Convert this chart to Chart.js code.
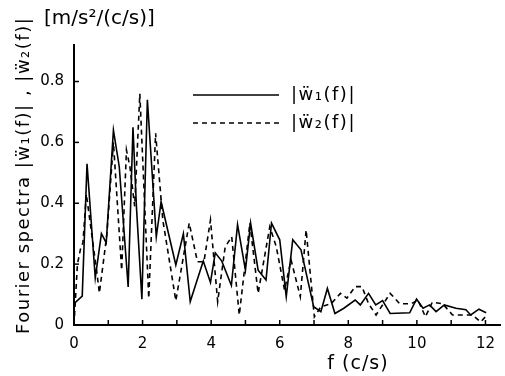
<!DOCTYPE html>
<html>
<head>
<meta charset="utf-8">
<script src="https://cdn.jsdelivr.net/npm/chart.js@4"></script>
<style>
  html, body { margin: 0; padding: 0; background: #fff; }
  #wrap { width: 505px; height: 376px; position: relative; }
</style>
</head>
<body>
<div id="wrap"><canvas id="spectraChart" width="505" height="376"></canvas></div>
<script>
// |W1(f)| solid curve
const freq1 = [0, 0.24, 0.38, 0.62, 0.8, 0.94, 1.15, 1.32, 1.58, 1.72, 1.82, 1.98, 2.14, 2.4, 2.54, 2.97, 3.19, 3.39, 3.77, 3.98, 4.12, 4.31, 4.59, 4.77, 5.0, 5.15, 5.37, 5.6, 5.76, 6.0, 6.19, 6.38, 6.62, 6.99, 7.2, 7.39, 7.61, 7.87, 8.2, 8.35, 8.59, 8.8, 9.0, 9.22, 9.79, 9.99, 10.18, 10.37, 10.56, 10.8, 11.14, 11.43, 11.57, 11.81, 12.02];
const amp1 = [0.07, 0.095, 0.53, 0.155, 0.30, 0.27, 0.64, 0.52, 0.125, 0.65, 0.39, 0.085, 0.74, 0.29, 0.405, 0.197, 0.30, 0.077, 0.21, 0.14, 0.237, 0.21, 0.13, 0.33, 0.18, 0.335, 0.18, 0.148, 0.335, 0.28, 0.093, 0.28, 0.247, 0.06, 0.044, 0.12, 0.038, 0.055, 0.082, 0.066, 0.104, 0.066, 0.08, 0.038, 0.04, 0.085, 0.055, 0.066, 0.044, 0.066, 0.055, 0.05, 0.033, 0.052, 0.04];

// |W2(f)| dashed curve
const freq2 = [0, 0.1, 0.19, 0.26, 0.36, 0.67, 0.74, 0.86, 0.96, 1.15, 1.39, 1.53, 1.63, 1.77, 1.92, 2.18, 2.38, 2.59, 2.97, 3.36, 3.6, 3.79, 3.98, 4.19, 4.41, 4.6, 4.82, 5.13, 5.37, 5.71, 5.9, 6.14, 6.33, 6.6, 6.77, 7.01, 7.2, 7.5, 7.77, 7.96, 8.2, 8.4, 8.59, 8.81, 9.22, 9.5, 9.84, 10.03, 10.25, 10.45, 10.75, 11.04, 11.33, 11.62, 11.86, 12.0];
const amp2 = [0.0, 0.2, 0.25, 0.27, 0.43, 0.17, 0.105, 0.21, 0.30, 0.60, 0.18, 0.575, 0.52, 0.39, 0.76, 0.088, 0.63, 0.345, 0.08, 0.335, 0.208, 0.208, 0.345, 0.077, 0.257, 0.29, 0.033, 0.335, 0.104, 0.323, 0.257, 0.115, 0.214, 0.093, 0.312, 0.027, 0.06, 0.07, 0.104, 0.088, 0.126, 0.126, 0.07, 0.033, 0.104, 0.07, 0.07, 0.082, 0.027, 0.075, 0.07, 0.033, 0.033, 0.033, 0.01, 0.027];

const xTicks = [0, 1, 2, 3, 4, 5, 6, 7, 8, 9, 10, 11, 12];
const xLabels = ["0", "", "2", "", "4", "", "6", "", "8", "", "10", "", "12"];
const yTicks = [0, 0.2, 0.4, 0.6, 0.8];
const yLabels = ["0", "0.2", "0.4", "0.6", "0.8"];

const seriesNames = ["|ẅ\u2081(f)|", "|ẅ\u2082(f)|"];
const FONT = "DejaVu Sans";

const toPoints = (xs, ys) => xs.map((x, i) => ({ x, y: ys[i] }));

// extra drawing: inner tick marks, titles, legend
const decorations = {
    id: "decorations",
    afterDraw(chart) {
        const { ctx, scales: { x, y } } = chart;
        ctx.save();
        ctx.strokeStyle = "#000";
        ctx.lineWidth = 1.5;

        // inner ticks
        xTicks.forEach(v => {
            const px = x.getPixelForValue(v);
            ctx.beginPath();
            ctx.moveTo(px, y.bottom);
            ctx.lineTo(px, y.bottom - 5);
            ctx.stroke();
        });
        yTicks.forEach(v => {
            const py = y.getPixelForValue(v);
            ctx.beginPath();
            ctx.moveTo(x.left, py);
            ctx.lineTo(x.left + 5, py);
            ctx.stroke();
        });

        ctx.fillStyle = "#000";
        ctx.textBaseline = "middle";

        // unit label
        ctx.font = `20px ${FONT}`;
        ctx.textAlign = "left";
        ctx.fillText("[m/s²/(c/s)]", 44, 19);

        // x title
        ctx.font = `19px ${FONT}`;
        ctx.textAlign = "center";
        ctx.letterSpacing = "1px";
        ctx.fillText("f (c/s)", 358, 364);

        // y title
        ctx.save();
        ctx.translate(24, 334);
        ctx.rotate(-Math.PI / 2);
        ctx.textAlign = "left";
        ctx.font = `18px ${FONT}`;
        ctx.letterSpacing = "1.5px";
        ctx.fillText("Fourier spectra " + seriesNames[0] + " , " + seriesNames[1], 0, 0);
        ctx.restore();

        // legend
        const ds = chart.data.datasets;
        [95, 123].forEach((ly, i) => {
            ctx.save();
            ctx.lineWidth = ds[i].borderWidth;
            ctx.setLineDash(ds[i].borderDash || []);
            ctx.beginPath();
            ctx.moveTo(193, ly);
            ctx.lineTo(279, ly);
            ctx.stroke();
            ctx.restore();
            ctx.font = `18px ${FONT}`;
            ctx.letterSpacing = "1.5px";
            ctx.textAlign = "left";
            ctx.fillText(seriesNames[i], 291, ly);
        });
        ctx.restore();
    }
};

new Chart(document.getElementById("spectraChart"), {
    type: "line",
    data: {
        datasets: [
            {
                label: seriesNames[0],
                data: toPoints(freq1, amp1),
                borderColor: "#000",
                borderWidth: 1.6,
                pointRadius: 0,
                tension: 0,
                fill: false
            },
            {
                label: seriesNames[1],
                data: toPoints(freq2, amp2),
                borderColor: "#000",
                borderWidth: 1.6,
                borderDash: [5, 4],
                pointRadius: 0,
                tension: 0,
                fill: false
            }
        ]
    },
    options: {
        responsive: false,
        animation: false,
        layout: { padding: { top: 45, right: 0, left: 0, bottom: 0 } },
        plugins: {
            legend: { display: false },
            tooltip: { enabled: false }
        },
        scales: {
            x: {
                type: "linear",
                min: 0,
                max: 12.43,
                afterBuildTicks: scale => { scale.ticks = xTicks.map(v => ({ value: v })); },
                afterFit: scale => { scale.height = 51; },
                grid: { display: false, drawTicks: false },
                border: { color: "#000", width: 2 },
                ticks: {
                    color: "#000",
                    padding: 10,
                    maxRotation: 0,
                    autoSkip: false,
                    font: { family: FONT, size: 15 },
                    callback: (v, i) => xLabels[i]
                }
            },
            y: {
                min: 0,
                max: 0.92,
                afterBuildTicks: scale => { scale.ticks = yTicks.map(v => ({ value: v })); },
                afterFit: scale => { scale.width = 74; },
                grid: { display: false, drawTicks: false },
                border: { color: "#000", width: 2 },
                ticks: {
                    color: "#000",
                    padding: 10,
                    font: { family: FONT, size: 15 },
                    callback: (v, i) => yLabels[i]
                }
            }
        }
    },
    plugins: [decorations]
});
</script>
</body>
</html>
